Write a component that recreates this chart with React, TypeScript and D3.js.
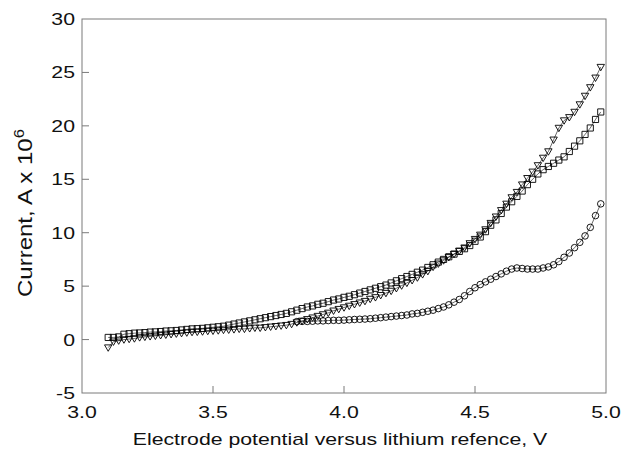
import React from 'react';
import * as d3 from 'd3';

// Electrode potential (V) and current (A x 10^6) for the three sweeps
const squarePotential = [
  3.10, 3.12, 3.14, 3.16, 3.18, 3.20, 3.22, 3.24, 3.26, 3.28, 3.30, 3.32, 3.34, 3.36, 3.38, 3.40,
  3.42, 3.44, 3.46, 3.48, 3.50, 3.52, 3.54, 3.56, 3.58, 3.60, 3.62, 3.64, 3.66, 3.68, 3.70, 3.72,
  3.74, 3.76, 3.78, 3.80, 3.82, 3.84, 3.86, 3.88, 3.90, 3.92, 3.94, 3.96, 3.98, 4.00, 4.02, 4.04,
  4.06, 4.08, 4.10, 4.12, 4.14, 4.16, 4.18, 4.20, 4.22, 4.24, 4.26, 4.28, 4.30, 4.32, 4.34, 4.36,
  4.38, 4.40, 4.42, 4.44, 4.46, 4.48, 4.50, 4.52, 4.54, 4.56, 4.58, 4.60, 4.62, 4.64, 4.66, 4.68,
  4.70, 4.72, 4.74, 4.76, 4.78, 4.80, 4.82, 4.84, 4.86, 4.88, 4.90, 4.92, 4.94, 4.96, 4.98,
];
const squareCurrent = [
  0.2, 0.2, 0.25, 0.5, 0.55, 0.6, 0.62, 0.65, 0.7, 0.72, 0.75, 0.8, 0.82, 0.85, 0.9, 0.95,
  1.0, 1.02, 1.05, 1.1, 1.15, 1.2, 1.25, 1.35, 1.45, 1.55, 1.65, 1.75, 1.85, 1.95, 2.05, 2.15,
  2.25, 2.35, 2.45, 2.6, 2.75, 2.9, 3.05, 3.15, 3.3, 3.4, 3.55, 3.7, 3.8, 3.95, 4.05, 4.2,
  4.35, 4.5, 4.65, 4.8, 4.95, 5.1, 5.3, 5.5, 5.7, 5.9, 6.1, 6.3, 6.5, 6.75, 7.0, 7.25,
  7.5, 7.75, 8.0, 8.25, 8.5, 8.8, 9.2, 9.6, 10.1, 10.7, 11.2, 11.8, 12.4, 12.9, 13.4, 13.9,
  14.5, 15.0, 15.5, 15.9, 16.2, 16.5, 16.8, 17.1, 17.6, 18.1, 18.6, 19.2, 19.8, 20.6, 21.3,
];

const trianglePotential = [
  3.10, 3.12, 3.14, 3.16, 3.18, 3.20, 3.22, 3.24, 3.26, 3.28, 3.30, 3.32, 3.34, 3.36, 3.38, 3.40,
  3.42, 3.44, 3.46, 3.48, 3.50, 3.52, 3.54, 3.56, 3.58, 3.60, 3.62, 3.64, 3.66, 3.68, 3.70, 3.72,
  3.74, 3.76, 3.78, 3.80, 3.82, 3.84, 3.86, 3.88, 3.90, 3.92, 3.94, 3.96, 3.98, 4.00, 4.02, 4.04,
  4.06, 4.08, 4.10, 4.12, 4.14, 4.16, 4.18, 4.20, 4.22, 4.24, 4.26, 4.28, 4.30, 4.32, 4.34, 4.36,
  4.38, 4.40, 4.42, 4.44, 4.46, 4.48, 4.50, 4.52, 4.54, 4.56, 4.58, 4.60, 4.62, 4.64, 4.66, 4.68,
  4.70, 4.72, 4.74, 4.76, 4.78, 4.80, 4.82, 4.84, 4.86, 4.88, 4.90, 4.92, 4.94, 4.96, 4.98,
];
const triangleCurrent = [
  -0.75, -0.2, -0.1, 0.0, 0.05, 0.1, 0.2, 0.25, 0.3, 0.35, 0.4, 0.45, 0.5, 0.55, 0.6, 0.65,
  0.7, 0.72, 0.75, 0.8, 0.82, 0.85, 0.9, 0.92, 0.95, 1.0, 1.0, 1.05, 1.1, 1.1, 1.15, 1.2,
  1.25, 1.3, 1.35, 1.45, 1.6, 1.75, 1.9, 2.05, 2.2, 2.35, 2.5, 2.7, 2.85, 3.0, 3.15, 3.3,
  3.45, 3.6, 3.8, 3.95, 4.15, 4.35, 4.55, 4.8, 5.05, 5.3, 5.55, 5.8, 6.1, 6.4, 6.8, 7.1,
  7.4, 7.7, 8.0, 8.3, 8.6, 9.0, 9.4, 9.8, 10.3, 10.9, 11.5, 12.1, 12.7, 13.3, 13.8, 14.5,
  15.1, 15.7, 16.3, 17.0, 17.6, 18.7, 19.8, 20.5, 20.8, 21.3, 22.0, 22.8, 23.6, 24.5, 25.5,
];

const circlePotential = [
  3.82, 3.84, 3.86, 3.88, 3.90, 3.92, 3.94, 3.96, 3.98, 4.00, 4.02, 4.04, 4.06, 4.08, 4.10, 4.12,
  4.14, 4.16, 4.18, 4.20, 4.22, 4.24, 4.26, 4.28, 4.30, 4.32, 4.34, 4.36, 4.38, 4.40, 4.42, 4.44,
  4.46, 4.48, 4.50, 4.52, 4.54, 4.56, 4.58, 4.60, 4.62, 4.64, 4.66, 4.68, 4.70, 4.72, 4.74, 4.76,
  4.78, 4.80, 4.82, 4.84, 4.86, 4.88, 4.90, 4.92, 4.94, 4.96, 4.98,
];
const circleCurrent = [
  1.68, 1.7, 1.7, 1.72, 1.75, 1.75, 1.78, 1.8, 1.8, 1.82, 1.85, 1.88, 1.9, 1.92, 1.95, 2.0,
  2.05, 2.1, 2.15, 2.2, 2.25, 2.3, 2.4, 2.45, 2.55, 2.65, 2.75, 2.9, 3.05, 3.25, 3.5, 3.75,
  4.1, 4.5, 4.85, 5.15, 5.4, 5.65, 5.9, 6.15, 6.4, 6.6, 6.7, 6.65, 6.6, 6.6, 6.6, 6.7,
  6.8, 7.0, 7.3, 7.7, 8.1, 8.6, 9.1, 9.7, 10.5, 11.6, 12.7,
];

const xTicks = [3.0, 3.5, 4.0, 4.5, 5.0];
const yTicks = [-5, 0, 5, 10, 15, 20, 25, 30];

const W = 621;
const H = 452;
const left = 82;
const right = 606;
const top = 19;
const bottom = 393;
const font = 'Liberation Sans, Arial, Helvetica, sans-serif';
const frameColor = '#7a7a7a';
const stretch = 1.25; // wide lettering

type Pt = [number, number];
const zip = (xs: number[], ys: number[]): Pt[] => xs.map((x, i) => [x, ys[i]]);

export default function App() {
  const x = d3.scaleLinear().domain([3, 5]).range([left, right]);
  const y = d3.scaleLinear().domain([-5, 30]).range([bottom, top]);

  const line = d3
    .line<Pt>()
    .x((d) => x(d[0]))
    .y((d) => y(d[1]));

  const squares = zip(squarePotential, squareCurrent);
  const triangles = zip(trianglePotential, triangleCurrent);
  const circles = zip(circlePotential, circleCurrent);

  const squarePath = d3.symbol().type(d3.symbolSquare).size(38)()!;
  const circlePath = d3.symbol().type(d3.symbolCircle).size(34)()!;
  // downward-pointing triangle
  const tri = 'M-3.7,-2.7L3.7,-2.7L0,3.7Z';

  const markerStyle = { fill: 'none', stroke: '#000', strokeWidth: 0.9 };

  return (
    <svg
      width={W}
      height={H}
      style={{ position: 'absolute', left: 0, top: 0, background: '#fff' }}
      fontFamily={font}
    >
      <rect x={0} y={0} width={W} height={H} fill="#fff" />

      {/* frame */}
      <rect
        x={left}
        y={top}
        width={right - left}
        height={bottom - top}
        fill="none"
        stroke={frameColor}
        strokeWidth={1}
      />

      {/* x ticks and labels */}
      {xTicks.map((t) => (
        <g key={'x' + t}>
          {t > 3 && t < 5 && (
            <line x1={x(t)} x2={x(t)} y1={bottom} y2={bottom - 7} stroke={frameColor} />
          )}
          <text
            transform={`translate(${x(t)},418) scale(${stretch},1)`}
            fontSize={17}
            textAnchor="middle"
            fill="#111"
          >
            {t.toFixed(1)}
          </text>
        </g>
      ))}

      {/* y ticks and labels */}
      {yTicks.map((t) => (
        <g key={'y' + t}>
          {t > -5 && t < 30 && (
            <line x1={left} x2={left + 7} y1={y(t)} y2={y(t)} stroke={frameColor} />
          )}
          <text
            transform={`translate(75,${y(t) + 6}) scale(${stretch},1)`}
            fontSize={17}
            textAnchor="end"
            fill="#111"
          >
            {t}
          </text>
        </g>
      ))}

      {/* axis titles */}
      <text
        transform={`translate(340,445) scale(${stretch},1)`}
        fontSize={17}
        textAnchor="middle"
        fill="#111"
      >
        Electrode potential versus lithium refence, V
      </text>
      <text
        transform={`translate(32,297) rotate(-90) scale(1.2,1)`}
        fontSize={20}
        textAnchor="start"
        fill="#111"
      >
        Current, A x 10
        <tspan dy={-8} fontSize={14}>
          6
        </tspan>
      </text>

      {/* connecting lines */}
      <path d={line(triangles)!} fill="none" stroke="#000" strokeWidth={0.6} />
      <path d={line(squares)!} fill="none" stroke="#000" strokeWidth={0.6} />
      <path d={line(circles)!} fill="none" stroke="#000" strokeWidth={0.6} />

      {/* markers */}
      {triangles.map((d, i) => (
        <path key={'t' + i} d={tri} transform={`translate(${x(d[0])},${y(d[1])})`} {...markerStyle} />
      ))}
      {squares.map((d, i) => (
        <path key={'s' + i} d={squarePath} transform={`translate(${x(d[0])},${y(d[1])})`} {...markerStyle} />
      ))}
      {circles.map((d, i) => (
        <path key={'c' + i} d={circlePath} transform={`translate(${x(d[0])},${y(d[1])})`} {...markerStyle} />
      ))}
    </svg>
  );
}
